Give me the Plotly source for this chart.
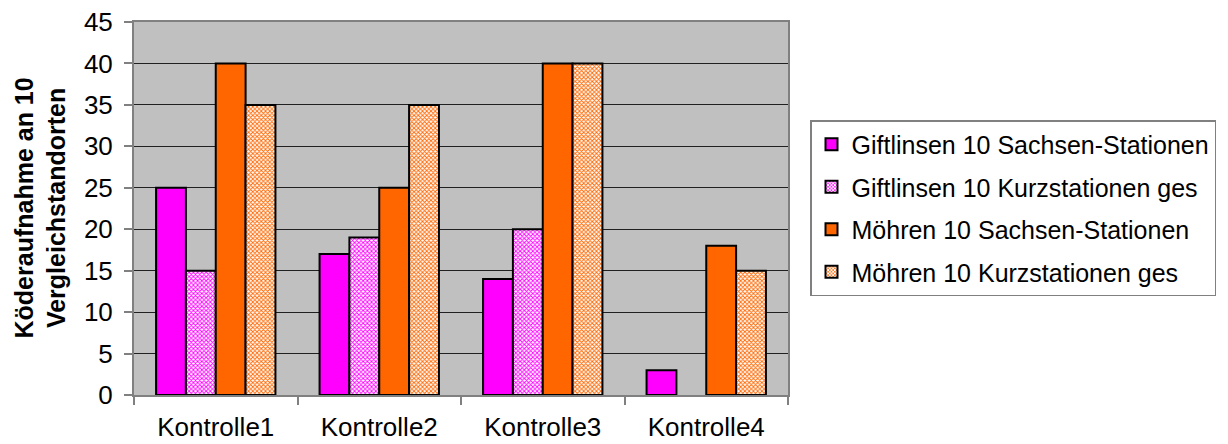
import plotly.graph_objects as go

categories = ["Kontrolle1", "Kontrolle2", "Kontrolle3", "Kontrolle4"]
gift_sachsen = [25, 17, 14, 3]
gift_kurz = [15, 19, 20, None]
moehren_sachsen = [40, 25, 40, 18]
moehren_kurz = [35, 35, 40, 15]

series_names = [
    "Giftlinsen 10 Sachsen-Stationen",
    "Giftlinsen 10 Kurzstationen ges",
    "Möhren 10 Sachsen-Stationen",
    "Möhren 10 Kurzstationen ges",
]

MAG = "#FF00FF"
ORA = "#FF6600"
FONT = "Arial, Liberation Sans, sans-serif"

fig = go.Figure()
specs = [
    (gift_sachsen, dict(color=MAG)),
    (gift_kurz, dict(color="white", pattern=dict(shape="x", fgcolor=MAG, bgcolor="white", size=3, solidity=0.5, fillmode="replace"))),
    (moehren_sachsen, dict(color=ORA)),
    (moehren_kurz, dict(color="white", pattern=dict(shape="x", fgcolor=ORA, bgcolor="white", size=3, solidity=0.5, fillmode="replace"))),
]
for i, (vals, mk) in enumerate(specs):
    mk["line"] = dict(color="black", width=2)
    fig.add_trace(go.Bar(x=categories, y=vals, name=series_names[i], marker=mk,
                         legendgroup=f"g{i}"))

# page has an 8px body margin: work in figure coordinates = screen - 8
OFF = 8
W, H = 1228 - OFF, 444 - OFF
PL, PR, PT, PB = 134 - OFF, 788 - OFF, 22 - OFF, 395 - OFF

fig.update_layout(
    width=W, height=H,
    margin=dict(l=PL, r=W - PR, t=PT, b=H - PB, autoexpand=False),
    paper_bgcolor="white",
    plot_bgcolor="#C0C0C0",
    barmode="group",
    bargap=0.27,
    bargroupgap=0,
    font=dict(family=FONT, size=26, color="black"),
    showlegend=True,
    legend=dict(
        x=(810 - OFF - PL) / (PR - PL), y=(PB - (120 - OFF)) / (PB - PT),
        xanchor="left", yanchor="top",
        bgcolor="white", bordercolor="#808080", borderwidth=1.5,
        font=dict(family=FONT, size=25, color="black"),
        tracegroupgap=7, traceorder="grouped",
        itemwidth=30,
    ),
    xaxis=dict(
        automargin=False,
        showline=True, linecolor="#808080", linewidth=2, mirror=True,
        ticks="outside", ticklen=8, tickcolor="#808080", tickwidth=1.5,
        tickson="boundaries", showgrid=False,
        tickfont=dict(size=26), ticklabelstandoff=8,
    ),
    yaxis=dict(
        automargin=False,
        range=[0, 45], dtick=5, tick0=0,
        showline=True, linecolor="#808080", linewidth=2, mirror=True,
        ticks="outside", ticklen=8, tickcolor="#808080", tickwidth=1.5,
        showgrid=True, gridcolor="#202020", gridwidth=1,
        zeroline=False, ticklabeloverflow="allow",
        tickfont=dict(size=26), ticklabelstandoff=6,
    ),
    annotations=[dict(
        text="<b>Köderaufnahme an 10<br>Vergleichstandorten</b>",
        xref="paper", yref="paper",
        x=(40 - OFF - PL) / (PR - PL), y=0.5, xanchor="center", yanchor="middle",
        textangle=-90, showarrow=False,
        font=dict(family=FONT, size=25, color="black"),
    )],
)

fig.write_html("out.html")
